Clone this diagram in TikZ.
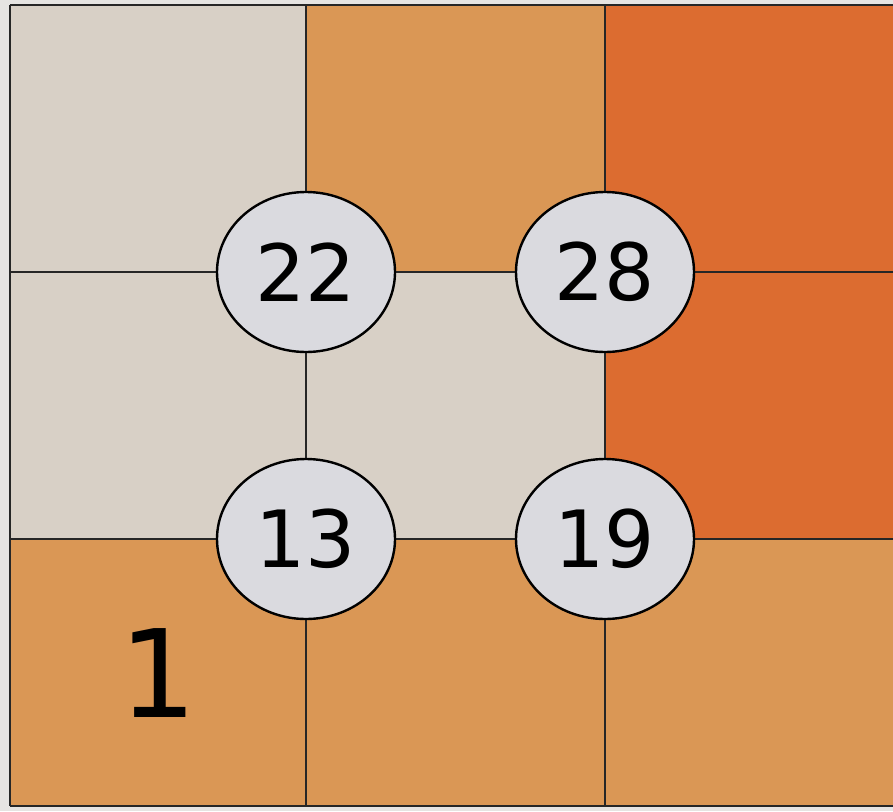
\documentclass[tikz,border=0pt]{standalone}
\usepackage{fontspec}
\setmainfont{DejaVu Sans}
\usetikzlibrary{shapes.geometric}
\definecolor{cellbeige}{HTML}{D8D0C6}
\definecolor{cellorange}{HTML}{DA9755}
\definecolor{celldark}{HTML}{DC6C30}
\definecolor{discgray}{HTML}{DADADF}
\definecolor{paper}{HTML}{E6E4E2}

\begin{document}
\begin{tikzpicture}[x=1pt,y=-1pt,
   grid/.style={line width=2.4pt,black!85},
   disc/.style={draw,line width=2.4pt,fill=discgray,ellipse,
                minimum width=178pt,minimum height=160pt,inner sep=0pt,
                font=\fontsize{79}{79}\selectfont},
   cluenum/.style={font=\fontsize{122}{122}\selectfont}]
  \useasboundingbox (0,0) rectangle (893,811);
  \fill[paper] (0,0) rectangle (893,811);
  % cells
  \fill[cellbeige]  (10,5)   rectangle (306,272);
  \fill[cellorange] (306,5)  rectangle (605,272);
  \fill[celldark]   (605,5)  rectangle (893,272);
  \fill[cellbeige]  (10,272) rectangle (605,539);
  \fill[celldark]   (605,272) rectangle (893,539);
  \fill[cellorange] (10,539) rectangle (893,806);
  % grid
  \draw[grid] (10,5) -- (893,5);
  \draw[grid] (10,272) -- (893,272);
  \draw[grid] (10,539) -- (893,539);
  \draw[grid] (10,806) -- (893,806);
  \draw[grid] (10,5) -- (10,806);
  \draw[grid] (306,5) -- (306,806);
  \draw[grid] (605,5) -- (605,806);
  % discs
  \node[disc] (d22) at (306,272) {22};
  \node[disc] (d28) at (605,272) {28};
  \node[disc] (d13) at (306,539) {13};
  \node[disc] (d19) at (605,539) {19};
  \node[cluenum] (one) at (158,673) {1};
\end{tikzpicture}
\end{document}
